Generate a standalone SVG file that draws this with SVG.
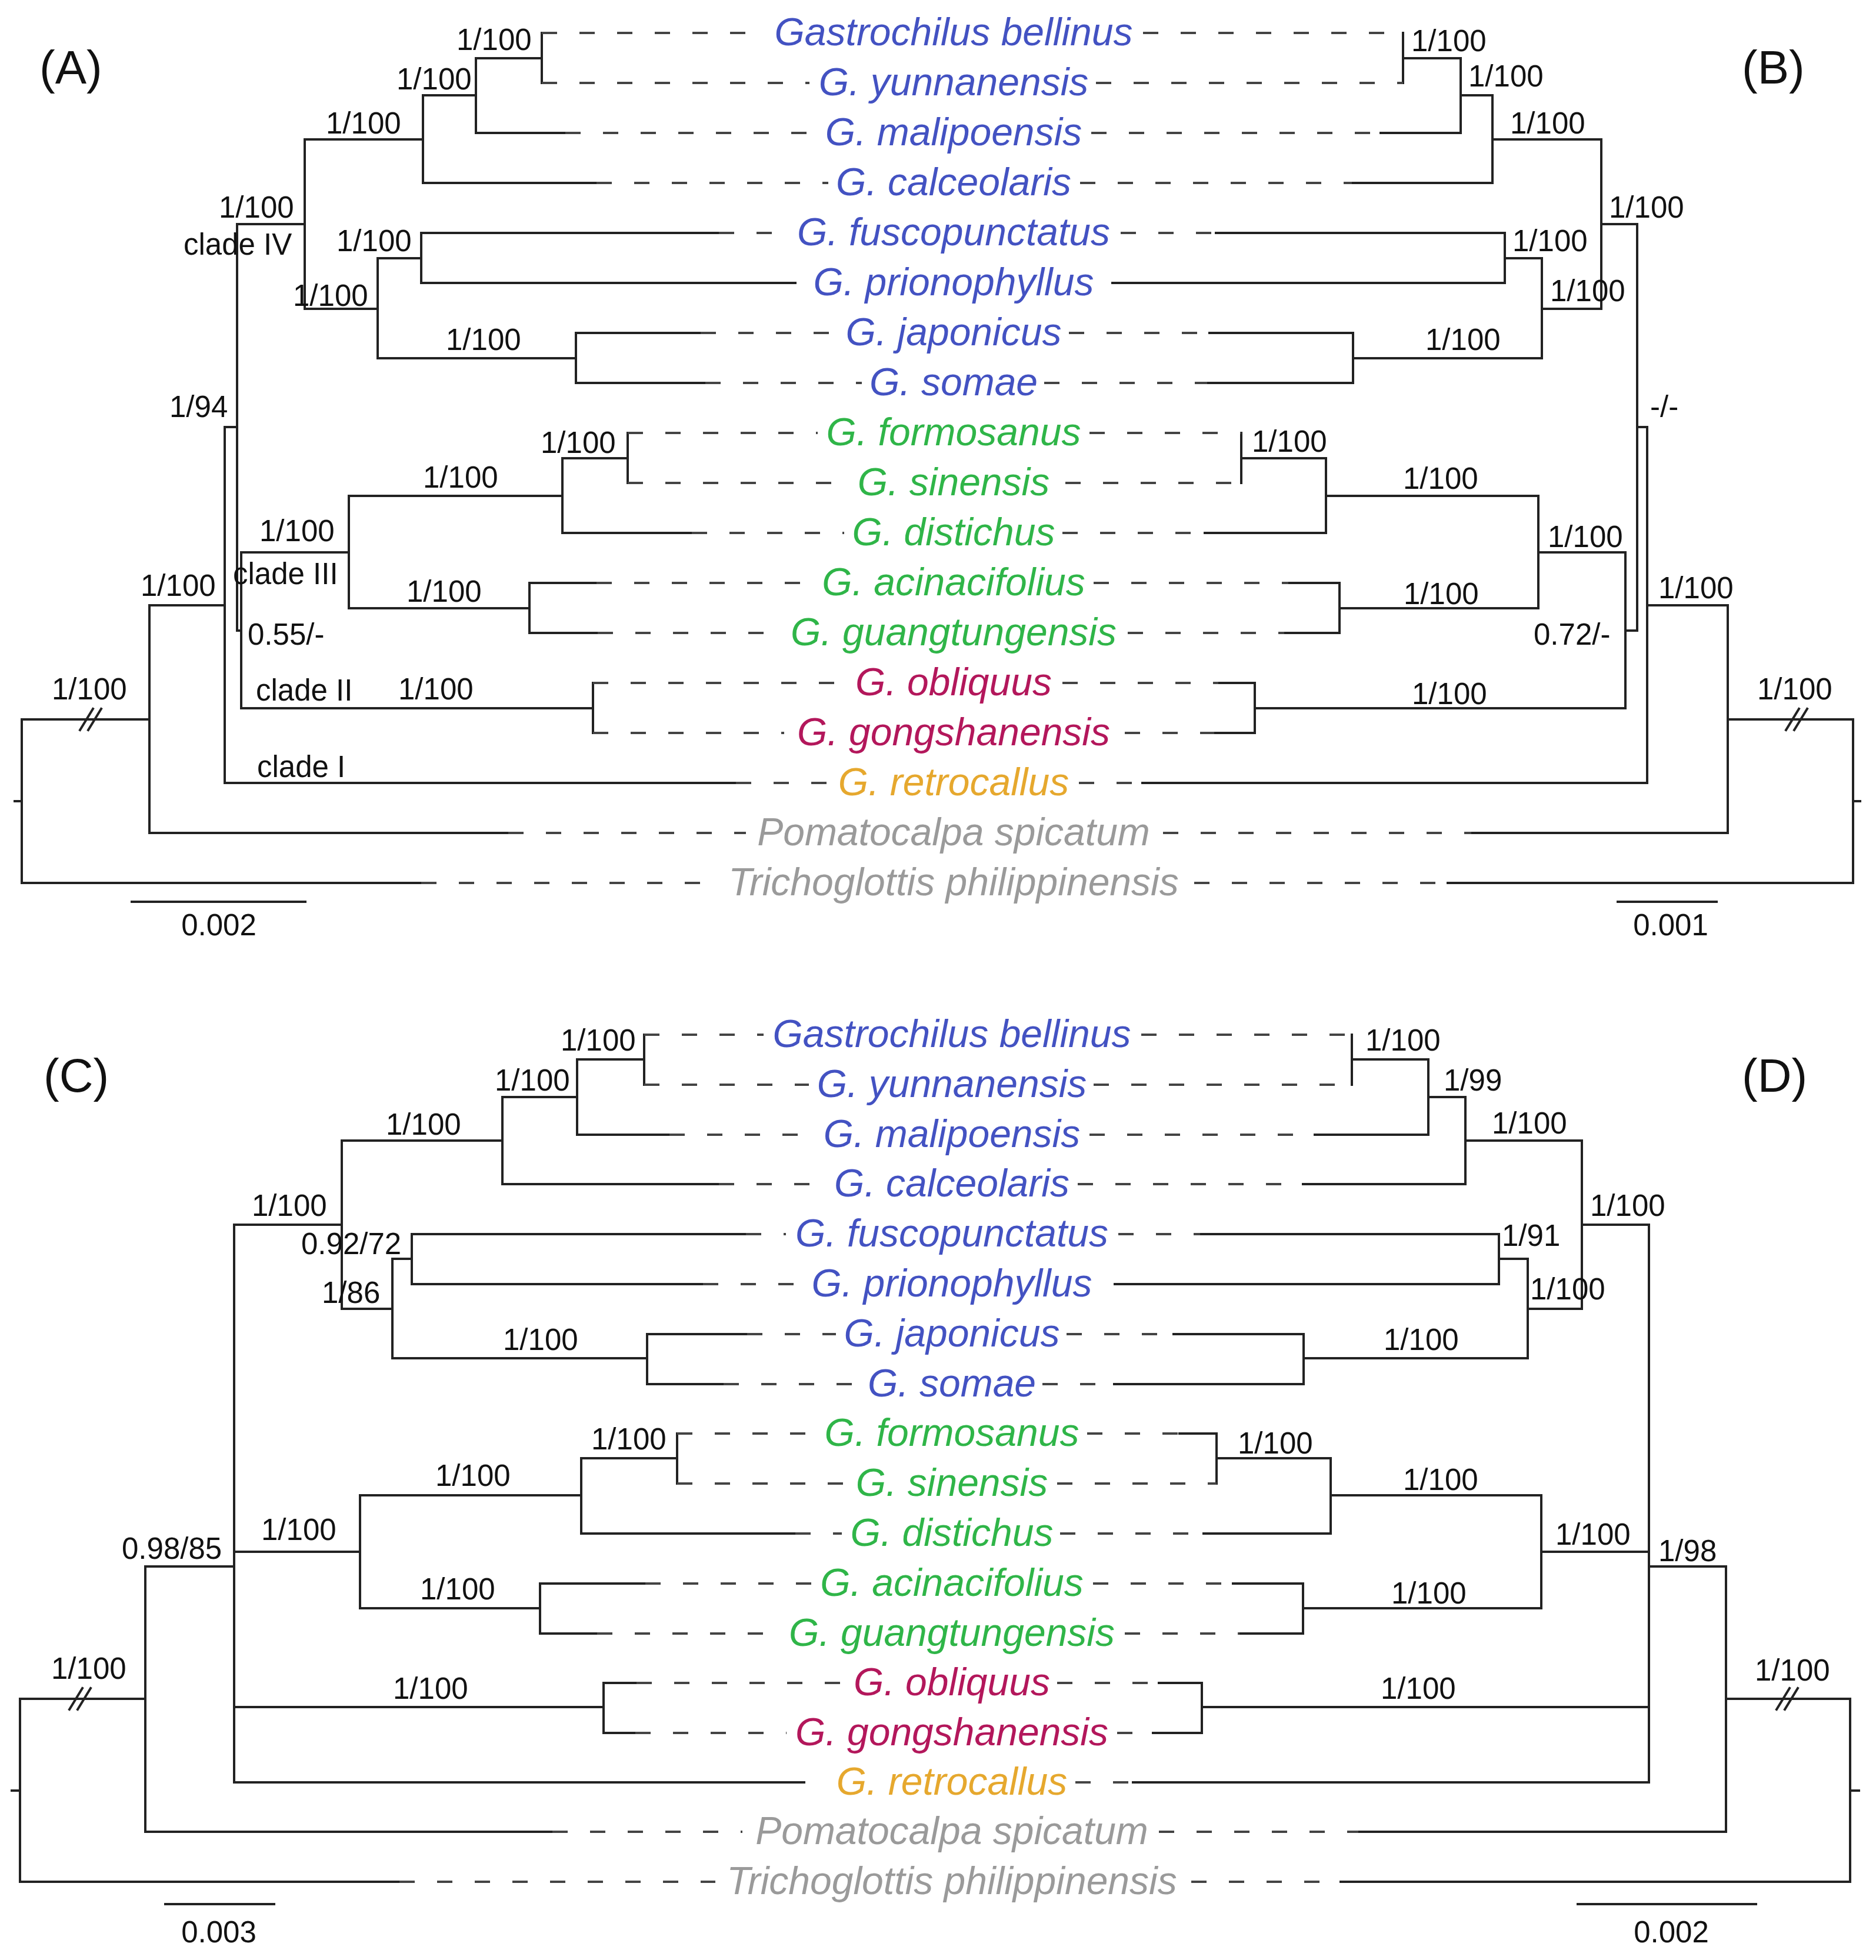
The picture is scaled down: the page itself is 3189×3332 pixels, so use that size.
<svg xmlns="http://www.w3.org/2000/svg" width="3189" height="3332" viewBox="0 0 3189 3332">
<style>
.br{stroke:#222;stroke-width:4;fill:none;stroke-linecap:square}
.dl{stroke:#444;stroke-width:4;fill:none;stroke-dasharray:26 38}
.sl{font-family:"Liberation Sans",Arial,sans-serif;font-size:51px;fill:#111}
.pl{font-family:"Liberation Sans",Arial,sans-serif;font-size:80px;fill:#111}
.tx{font-family:"Liberation Sans",Arial,sans-serif;font-size:66px;font-style:italic;text-anchor:middle}
.b{fill:#4352C2}.g{fill:#2FB548}.r{fill:#B3175B}.o{fill:#E6A82E}.y{fill:#9A9A9A}
.sc{font-family:"Liberation Sans",Arial,sans-serif;font-size:51px;fill:#111;text-anchor:middle}
</style>
<rect width="3189" height="3332" fill="#fff"/>
<g id="connectors">
<path class="br" d="M921,56V141M809,99H921M809,99V226M719,162H809M719,162V311M518,237H719M518,237V525M518,525H642M642,439V609M642,439H716M716,396V481M642,609H979M979,566V651M403,381H518M1067,736V821M956,779H1067M956,779V906M593,843H956M593,843V1034M593,1034H900M900,991V1076M410,939H593M410,939V1204M410,1204H1008M1008,1161V1246M403,1072H410M403,381V1072M382,726H403M382,726V1331M254,1029H382M254,1029V1416M37,1223H254M37,1223V1501M25,1362H37M809,226H961M719,311H1014M716,396H1222M716,481H1352M979,566H1191M979,651H1199M956,906H1176M900,991H1014M900,1076H1016M382,1331H1251M254,1416H864M37,1501H716"/>
<path class="dl" d="M921,56H1300M921,141H1376M961,226H1390M1014,311H1408M1222,396H1340M1191,566H1426M1199,651H1465M1067,736H1390M1067,821H1446M1176,906H1435M1014,991H1382M1016,1076H1328M1008,1161H1442M1008,1246H1333M1251,1331H1411M864,1416H1268M716,1501H1218"/>
<path class="br" d="M2385,56V141M2385,99H2483M2483,99V226M2483,162H2537M2537,162V311M2537,237H2722M2558,396V481M2558,439H2621M2300,566V651M2300,609H2621M2621,439V609M2621,525H2722M2722,237V525M2722,381H2783M2110,736V821M2110,779H2254M2254,779V906M2254,843H2615M2277,991V1076M2277,1034H2615M2615,843V1034M2615,939H2763M2133,1161V1246M2133,1204H2763M2763,939V1204M2763,1072H2783M2783,381V1072M2783,726H2800M2800,726V1331M2800,1029H2937M2937,1029V1416M2937,1223H3150M3150,1223V1501M3150,1362H3162M2347,226H2483M2298,311H2537M2067,396H2558M1891,481H2558M2056,566H2300M2052,651H2300M2048,906H2254M2190,991H2277M2183,1076H2277M2071,1161H2133M2064,1246H2133M1942,1331H2800M2501,1416H2937M2461,1501H3150"/>
<path class="dl" d="M1943,56H2385M1863,141H2385M1855,226H2347M1836,311H2298M1905,396H2067M1817,566H2056M1775,651H2052M1852,736H2110M1811,821H2110M1806,906H2048M1859,991H2190M1917,1076H2183M1806,1161H2071M1912,1246H2064M1834,1331H1942M1977,1416H2501M2030,1501H2461"/>
<path class="br" d="M1095,1759V1844M981,1801H1095M981,1801V1929M854,1865H981M854,1865V2013M581,1939H854M581,1939V2225M581,2225H667M667,2140V2309M667,2140H700M700,2098V2183M667,2309H1100M1100,2268V2353M398,2082H581M1151,2437V2522M988,2479H1151M988,2479V2607M612,2542H988M612,2542V2734M612,2734H918M918,2692V2777M398,2638H612M398,2902H1026M1026,2861V2946M398,2082V3030M247,2663H398M247,2663V3114M34,2888H247M34,2888V3199M20,3044H34M981,1929H1138M854,2013H1222M700,2098H1268M700,2183H1195M1100,2268H1270M1100,2353H1230M988,2607H1352M918,2692H1097M918,2777H1015M1026,2861H1082M1026,2946H1080M398,3030H1367M247,3114H939M34,3199H679"/>
<path class="dl" d="M1095,1759H1298M1095,1844H1375M1138,1929H1386M1222,2013H1405M1268,2098H1336M1195,2183H1363M1270,2268H1421M1230,2353H1461M1151,2437H1385M1151,2522H1441M1352,2607H1431M1097,2692H1380M1015,2777H1325M1082,2861H1440M1080,2946H1337M939,3114H1262M679,3199H1216"/>
<path class="br" d="M2298,1759V1844M2298,1801H2428M2428,1801V1929M2428,1865H2491M2491,1865V2013M2491,1939H2689M2548,2098V2183M2548,2140H2597M2216,2268V2353M2216,2309H2597M2597,2140V2309M2597,2225H2689M2689,1939V2225M2689,2082H2803M2068,2437V2522M2068,2479H2262M2262,2479V2607M2262,2542H2620M2215,2692V2777M2215,2734H2620M2620,2542V2734M2620,2638H2803M2043,2861V2946M2043,2902H2803M2803,2082V3030M2803,2663H2934M2934,2663V3114M2934,2888H3145M3145,2888V3199M3145,3044H3160M2235,1929H2428M2215,2013H2491M2040,2098H2548M1895,2183H2548M1995,2268H2216M1894,2353H2216M2005,2437H2068M2046,2607H2262M2096,2692H2215M2107,2777H2215M1970,2861H2043M1960,2946H2043M1926,3030H2803M2309,3114H2934M2279,3199H3145"/>
<path class="dl" d="M1940,1759H2298M1859,1844H2298M1852,1929H2235M1832,2013H2215M1901,2098H2040M1813,2268H1995M1772,2353H1894M1848,2437H2005M1797,2522H2068M1802,2607H2046M1858,2692H2096M1912,2777H2107M1797,2861H1970M1899,2946H1960M1828,3030H1926M1970,3114H2309M2025,3199H2279"/>
<path class="br" stroke-width="3" d="M136,1241L158,1205M150,1241L172,1205M3036,1241L3058,1205M3050,1241L3072,1205M118,2906L140,2870M132,2906L154,2870M3020,2906L3042,2870M3034,2906L3056,2870"/>
<path class="br" d="M224,1533H519M2750,1533H2918M281,3237H466M2682,3237H2985"/>
</g>
<g id="panels">
<text class="pl" x="67" y="142">(A)</text>
<text class="pl" x="2961" y="142">(B)</text>
<text class="pl" x="74" y="1856">(C)</text>
<text class="pl" x="2961" y="1856">(D)</text>
</g>
<g id="taxa-top">
<g id="t-bellinus"><text class="tx b" x="1621" y="77">Gastrochilus bellinus</text></g>
<g id="t-yunnanensis"><text class="tx b" x="1621" y="162">G. yunnanensis</text></g>
<g id="t-malipoensis"><text class="tx b" x="1621" y="247">G. malipoensis</text></g>
<g id="t-calceolaris"><text class="tx b" x="1621" y="332">G. calceolaris</text></g>
<g id="t-fuscopunctatus"><text class="tx b" x="1621" y="417">G. fuscopunctatus</text></g>
<g id="t-prionophyllus"><text class="tx b" x="1621" y="502">G. prionophyllus</text></g>
<g id="t-japonicus"><text class="tx b" x="1621" y="587">G. japonicus</text></g>
<g id="t-somae"><text class="tx b" x="1621" y="672">G. somae</text></g>
<g id="t-formosanus"><text class="tx g" x="1621" y="757">G. formosanus</text></g>
<g id="t-sinensis"><text class="tx g" x="1621" y="842">G. sinensis</text></g>
<g id="t-distichus"><text class="tx g" x="1621" y="927">G. distichus</text></g>
<g id="t-acinacifolius"><text class="tx g" x="1621" y="1012">G. acinacifolius</text></g>
<g id="t-guangtungensis"><text class="tx g" x="1621" y="1097">G. guangtungensis</text></g>
<g id="t-obliquus"><text class="tx r" x="1621" y="1182">G. obliquus</text></g>
<g id="t-gongshanensis"><text class="tx r" x="1621" y="1267">G. gongshanensis</text></g>
<g id="t-retrocallus"><text class="tx o" x="1621" y="1352">G. retrocallus</text></g>
<g id="t-pomatocalpa"><text class="tx y" x="1621" y="1437">Pomatocalpa spicatum</text></g>
<g id="t-trichoglottis"><text class="tx y" x="1621" y="1522">Trichoglottis philippinensis</text></g>
</g>
<g id="taxa-bottom">
<g id="b-bellinus"><text class="tx b" x="1618" y="1780">Gastrochilus bellinus</text></g>
<g id="b-yunnanensis"><text class="tx b" x="1618" y="1865">G. yunnanensis</text></g>
<g id="b-malipoensis"><text class="tx b" x="1618" y="1950">G. malipoensis</text></g>
<g id="b-calceolaris"><text class="tx b" x="1618" y="2034">G. calceolaris</text></g>
<g id="b-fuscopunctatus"><text class="tx b" x="1618" y="2119">G. fuscopunctatus</text></g>
<g id="b-prionophyllus"><text class="tx b" x="1618" y="2204">G. prionophyllus</text></g>
<g id="b-japonicus"><text class="tx b" x="1618" y="2289">G. japonicus</text></g>
<g id="b-somae"><text class="tx b" x="1618" y="2374">G. somae</text></g>
<g id="b-formosanus"><text class="tx g" x="1618" y="2458">G. formosanus</text></g>
<g id="b-sinensis"><text class="tx g" x="1618" y="2543">G. sinensis</text></g>
<g id="b-distichus"><text class="tx g" x="1618" y="2628">G. distichus</text></g>
<g id="b-acinacifolius"><text class="tx g" x="1618" y="2713">G. acinacifolius</text></g>
<g id="b-guangtungensis"><text class="tx g" x="1618" y="2798">G. guangtungensis</text></g>
<g id="b-obliquus"><text class="tx r" x="1618" y="2882">G. obliquus</text></g>
<g id="b-gongshanensis"><text class="tx r" x="1618" y="2967">G. gongshanensis</text></g>
<g id="b-retrocallus"><text class="tx o" x="1618" y="3051">G. retrocallus</text></g>
<g id="b-pomatocalpa"><text class="tx y" x="1618" y="3135">Pomatocalpa spicatum</text></g>
<g id="b-trichoglottis"><text class="tx y" x="1618" y="3220">Trichoglottis philippinensis</text></g>
</g>
<g id="support-A">
<text class="sl" x="776" y="85">1/100</text>
<text class="sl" x="674" y="152">1/100</text>
<text class="sl" x="554" y="227">1/100</text>
<text class="sl" x="372" y="370">1/100</text>
<text class="sl" x="312" y="433">clade IV</text>
<text class="sl" x="572" y="427">1/100</text>
<text class="sl" x="498" y="520">1/100</text>
<text class="sl" x="758" y="595">1/100</text>
<text class="sl" x="288" y="709">1/94</text>
<text class="sl" x="919" y="770">1/100</text>
<text class="sl" x="719" y="829">1/100</text>
<text class="sl" x="441" y="920">1/100</text>
<text class="sl" x="396" y="993">clade III</text>
<text class="sl" x="691" y="1023">1/100</text>
<text class="sl" x="421" y="1096">0.55/-</text>
<text class="sl" x="435" y="1191">clade II</text>
<text class="sl" x="677" y="1189">1/100</text>
<text class="sl" x="239" y="1013">1/100</text>
<text class="sl" x="88" y="1189">1/100</text>
<text class="sl" x="437" y="1321">clade I</text>
<text class="sc" x="372" y="1590">0.002</text>
</g>
<g id="support-B">
<text class="sl" x="2399" y="87">1/100</text>
<text class="sl" x="2496" y="147">1/100</text>
<text class="sl" x="2567" y="227">1/100</text>
<text class="sl" x="2735" y="370">1/100</text>
<text class="sl" x="2571" y="427">1/100</text>
<text class="sl" x="2635" y="512">1/100</text>
<text class="sl" x="2423" y="595">1/100</text>
<text class="sl" x="2805" y="709">-/-</text>
<text class="sl" x="2128" y="768">1/100</text>
<text class="sl" x="2385" y="831">1/100</text>
<text class="sl" x="2631" y="930">1/100</text>
<text class="sl" x="2386" y="1027">1/100</text>
<text class="sl" x="2607" y="1096">0.72/-</text>
<text class="sl" x="2819" y="1017">1/100</text>
<text class="sl" x="2400" y="1197">1/100</text>
<text class="sl" x="2987" y="1189">1/100</text>
<text class="sc" x="2840" y="1590">0.001</text>
</g>
<g id="support-C">
<text class="sl" x="953" y="1786">1/100</text>
<text class="sl" x="841" y="1854">1/100</text>
<text class="sl" x="656" y="1929">1/100</text>
<text class="sl" x="428" y="2067">1/100</text>
<text class="sl" x="512" y="2132">0.92/72</text>
<text class="sl" x="547" y="2215">1/86</text>
<text class="sl" x="855" y="2295">1/100</text>
<text class="sl" x="1005" y="2464">1/100</text>
<text class="sl" x="740" y="2526">1/100</text>
<text class="sl" x="444" y="2618">1/100</text>
<text class="sl" x="714" y="2719">1/100</text>
<text class="sl" x="207" y="2650">0.98/85</text>
<text class="sl" x="668" y="2888">1/100</text>
<text class="sl" x="87" y="2854">1/100</text>
<text class="sc" x="372" y="3302">0.003</text>
</g>
<g id="support-D">
<text class="sl" x="2321" y="1786">1/100</text>
<text class="sl" x="2454" y="1854">1/99</text>
<text class="sl" x="2536" y="1927">1/100</text>
<text class="sl" x="2703" y="2067">1/100</text>
<text class="sl" x="2553" y="2118">1/91</text>
<text class="sl" x="2601" y="2209">1/100</text>
<text class="sl" x="2352" y="2295">1/100</text>
<text class="sl" x="2104" y="2471">1/100</text>
<text class="sl" x="2385" y="2533">1/100</text>
<text class="sl" x="2644" y="2626">1/100</text>
<text class="sl" x="2819" y="2654">1/98</text>
<text class="sl" x="2365" y="2726">1/100</text>
<text class="sl" x="2347" y="2888">1/100</text>
<text class="sl" x="2983" y="2857">1/100</text>
<text class="sc" x="2841" y="3302">0.002</text>
</g>
</svg>
